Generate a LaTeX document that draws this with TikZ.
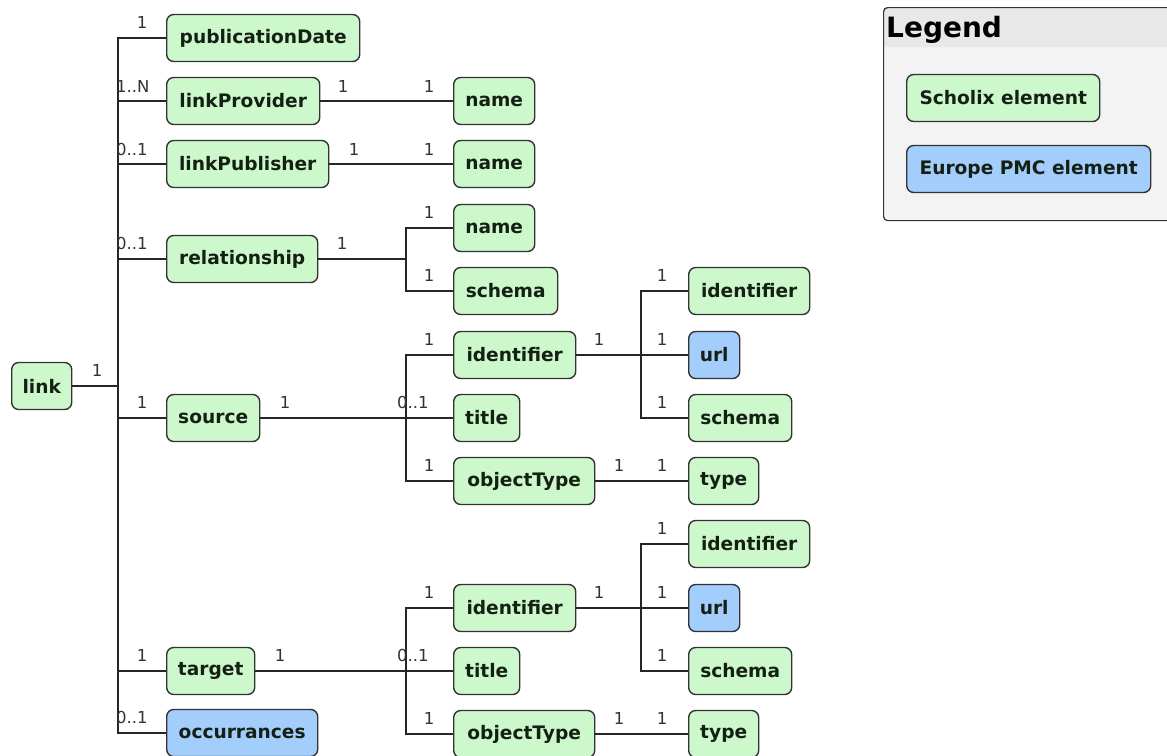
\documentclass[tikz,border=0pt]{standalone}
\usepackage{fontspec}
\setmainfont{DejaVu Sans}
\definecolor{sgreen}{HTML}{CCF8CC}
\definecolor{pblue}{HTML}{A3CDFA}
\definecolor{bord}{HTML}{333333}
\definecolor{lhead}{HTML}{E8E8E8}
\definecolor{lbody}{HTML}{F3F3F3}
\definecolor{lbltxt}{HTML}{333333}
\definecolor{etxt}{HTML}{152015}
\begin{document}
\begin{tikzpicture}[x=1pt,y=-1pt,
  elem/.style={draw=bord,line width=1.4pt,rounded corners=7pt,fill=sgreen,
    minimum height=47pt,inner xsep=2pt,inner ysep=0pt,anchor=west,
    font=\fontsize{18.6}{20}\selectfont\bfseries,text=etxt},
  pmc/.style={elem,fill=pblue},
  conn/.style={line width=1.3pt,draw=black!85},
  lbl/.style={font=\fontsize{16.5}{18}\selectfont,text=lbltxt,inner sep=0pt},
]
\useasboundingbox (0,0) rectangle (1167,755);
% legend
\fill[lbody,rounded corners=4pt] (883,7) rectangle (1185,220);
\fill[lhead,rounded corners=4pt] (883,7) rectangle (1185,47);
\fill[lhead] (883,30) rectangle (1185,47);
\node[draw=bord,line width=1.2pt,rounded corners=4pt,minimum width=302pt,minimum height=213pt,anchor=north west,inner sep=0pt] (legbox) at (883,7) {};
\node[anchor=base west,font=\fontsize{28}{30}\selectfont\bfseries,inner sep=0pt] (legtitle) at (886,37) {Legend};
\node[elem,minimum width=193pt] (legs) at (906,98) {Scholix element};
\node[pmc,minimum width=244pt] (legp) at (906,169) {Europe PMC element};

% coordinates for vertical bus lines
\coordinate (sp) at (118,0);
\coordinate (b1) at (406,0);
\coordinate (b2) at (641,0);

% level 0/1
\node[elem,minimum width=60pt] (link) at (11,386) {link};
\node[elem,minimum width=193pt] (pub) at (166,38) {publicationDate};
\node[elem,minimum width=153pt] (prov) at (166,101) {linkProvider};
\node[elem,minimum width=162pt] (publ) at (166,164) {linkPublisher};
\node[elem,minimum width=151pt] (rel) at (166,259) {relationship};
\node[elem,minimum width=93pt] (src) at (166,418) {source};
\node[elem,minimum width=88pt] (tgt) at (166,671) {target};
\node[pmc,minimum width=151pt] (occ) at (166,733) {occurrances};

% level 2
\node[elem,minimum width=81pt] (provname) at (453,101) {name};
\node[elem,minimum width=81pt] (publname) at (453,164) {name};
\node[elem,minimum width=81pt] (relname) at (453,228) {name};
\node[elem,minimum width=104pt] (relschema) at (453,291) {schema};

\node[elem,minimum width=122pt] (sid) at (453,355) {identifier};
\node[elem,minimum width=66pt] (stitle) at (453,418) {title};
\node[elem,minimum width=141pt] (sot) at (453,481) {objectType};

\node[elem,minimum width=122pt] (tid) at (453,608) {identifier};
\node[elem,minimum width=66pt] (ttitle) at (453,671) {title};
\node[elem,minimum width=141pt] (tot) at (453,734) {objectType};

% level 3
\node[elem,minimum width=121pt] (sidid) at (688,291) {identifier};
\node[pmc,minimum width=51pt] (sidurl) at (688,355) {url};
\node[elem,minimum width=103pt] (sidsch) at (688,418) {schema};
\node[elem,minimum width=70pt] (stype) at (688,481) {type};

\node[elem,minimum width=121pt] (tidid) at (688,544) {identifier};
\node[pmc,minimum width=51pt] (tidurl) at (688,608) {url};
\node[elem,minimum width=103pt] (tidsch) at (688,671) {schema};
\node[elem,minimum width=70pt] (ttype) at (688,734) {type};

% connectors
\draw[conn] (link.east) -- (link.east -| sp);
\draw[conn] (pub.west) -- (pub.west -| sp) -- (occ.west -| sp) -- (occ.west);
\foreach \n in {prov,publ,rel,src,tgt} \draw[conn] (\n.west) -- (\n.west -| sp);
\draw[conn] (prov.east) -- (provname.west);
\draw[conn] (publ.east) -- (publname.west);
\draw[conn] (rel.east) -- (rel.east -| b1);
\draw[conn] (relname.west) -- (relname.west -| b1) -- (relschema.west -| b1) -- (relschema.west);
% source
\draw[conn] (src.east) -- (stitle.west);
\draw[conn] (sid.west) -- (sid.west -| b1) -- (sot.west -| b1) -- (sot.west);
\draw[conn] (sid.east) -- (sidurl.west);
\draw[conn] (sidid.west) -- (sidid.west -| b2) -- (sidsch.west -| b2) -- (sidsch.west);
\draw[conn] (sot.east) -- (stype.west);
% target
\draw[conn] (tgt.east) -- (ttitle.west);
\draw[conn] (tid.west) -- (tid.west -| b1) -- (tot.west -| b1) -- (tot.west);
\draw[conn] (tid.east) -- (tidurl.west);
\draw[conn] (tidid.west) -- (tidid.west -| b2) -- (tidsch.west -| b2) -- (tidsch.west);
\draw[conn] (tot.east) -- (ttype.west);

% multiplicity labels
\node[lbl] (m1) at (97,370) {1};
\node[lbl] (m2) at (142,22) {1};
\node[lbl,anchor=west] (m3) at (116,86) {1..N};
\node[lbl,anchor=west] (m4) at (116,149) {0..1};
\node[lbl,anchor=west] (m5) at (116,243) {0..1};
\node[lbl] (m6) at (142,402) {1};
\node[lbl] (m7) at (142,655) {1};
\node[lbl,anchor=west] (m8) at (116,717) {0..1};

\node[lbl] (m9) at (343,86) {1};
\node[lbl] (m10) at (429,86) {1};
\node[lbl] (m11) at (354,149) {1};
\node[lbl] (m12) at (429,149) {1};
\node[lbl] (m13) at (342,243) {1};
\node[lbl] (m14) at (429,212) {1};
\node[lbl] (m15) at (429,275) {1};

\node[lbl] (m16) at (285,402) {1};
\node[lbl,anchor=west] (m17) at (397,402) {0..1};
\node[lbl] (m18) at (429,339) {1};
\node[lbl] (m19) at (429,465) {1};
\node[lbl] (m20) at (599,339) {1};
\node[lbl] (m21) at (662,275) {1};
\node[lbl] (m22) at (662,339) {1};
\node[lbl] (m23) at (662,402) {1};
\node[lbl] (m24) at (619,465) {1};
\node[lbl] (m25) at (662,465) {1};

\node[lbl] (m26) at (280,655) {1};
\node[lbl,anchor=west] (m27) at (397,655) {0..1};
\node[lbl] (m28) at (429,592) {1};
\node[lbl] (m29) at (429,718) {1};
\node[lbl] (m30) at (599,592) {1};
\node[lbl] (m31) at (662,528) {1};
\node[lbl] (m32) at (662,592) {1};
\node[lbl] (m33) at (662,655) {1};
\node[lbl] (m34) at (619,718) {1};
\node[lbl] (m35) at (662,718) {1};
\end{tikzpicture}
\end{document}
